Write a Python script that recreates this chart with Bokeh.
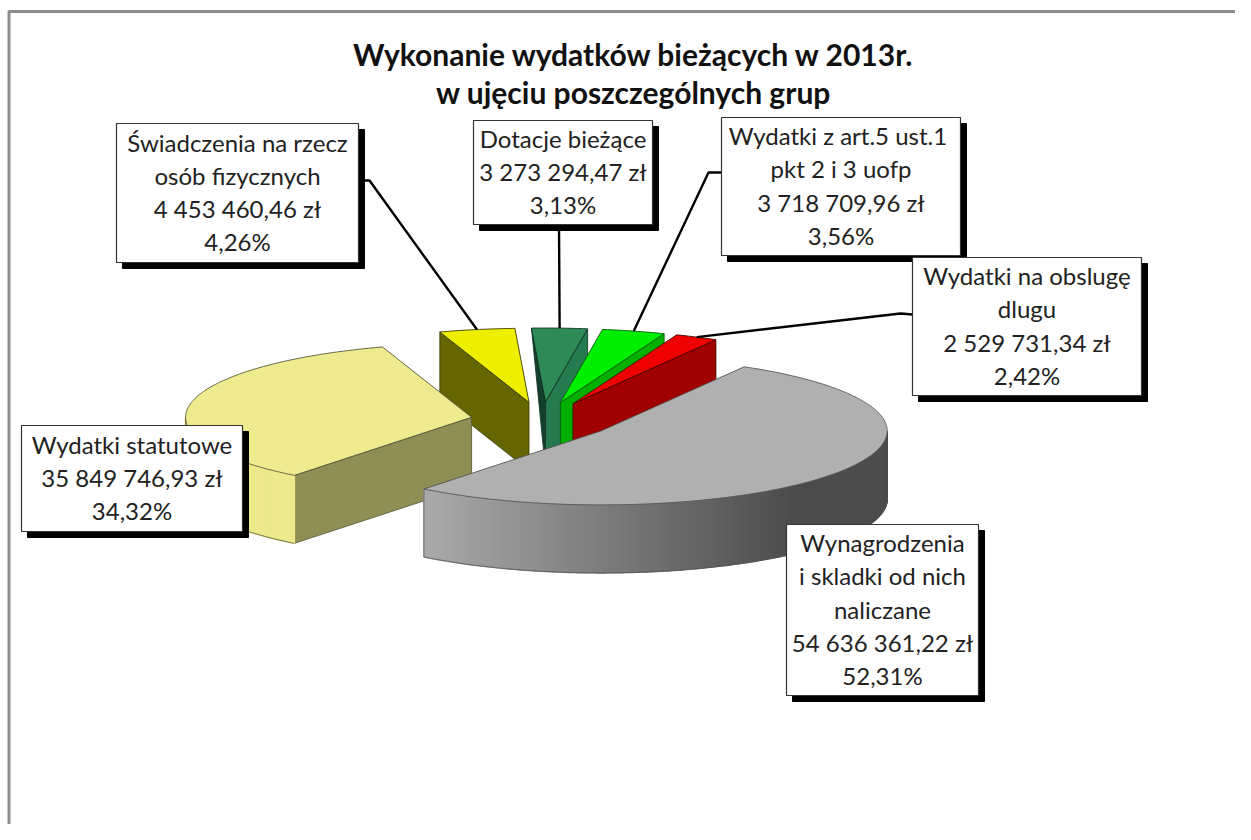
import math
from bokeh.plotting import figure
from bokeh.models import Range1d
from bokeh.core.properties import value
from bokeh.embed import file_html
from bokeh.resources import INLINE

# ---------- data ----------
categories = ["Wynagrodzenia i skladki", "Wydatki statutowe", "Świadczenia", "Dotacje bieżące", "Wydatki z art.5", "Wydatki na obsługę"]
amounts = [54636361.22, 35849746.93, 4453460.46, 3273294.47, 3718709.96, 2529731.34]
amount_labels = ["54 636 361,22 zł", "35 849 746,93 zł", "4 453 460,46 zł", "3 273 294,47 zł", "3 718 709,96 zł", "2 529 731,34 zł"]
percent_labels = ["52,31%", "34,32%", "4,26%", "3,13%", "3,56%", "2,42%"]
name_lines = [
    ["Wynagrodzenia", "i skladki od nich", "naliczane"],
    ["Wydatki statutowe"],
    ["Świadczenia na rzecz", "osób fizycznych"],
    ["Dotacje bieżące"],
    ["Wydatki z art.5  ust.1", "pkt 2 i 3 uofp"],
    ["Wydatki na obslugę", "dlugu"],
]
title_lines = ["Wykonanie wydatków  bieżących w 2013r.", "w ujęciu poszczególnych grup"]

# ---------- style / layout ----------
FONT = "Lato"
LABEL_SIZE = "24px"
TITLE_SIZE = "30px"
LINE_STEP = 33.3
CX, CY = 541.5, 420.0
RX, RY, DEPTH = 286.0, 74.0, 68.0
EXPLODE = 0.25
START_ANGLE = 30.0
top_colors = ["#B0B0B0", "#EEEB8E", "#EEEE00", "#2E8B57", "#00EE00", "#EE0000"]
start_face = [None, "#8F8F55", "#666600", "#143F2C", None, None]
end_face = [None, None, None, "#267A50", "#00B000", "#A00000"]
edge_colors = ["#555555", "#55553A", "#3A3A00", "#0F3020", "#0A5A0A", "#4A0000"]
boxes = [(786, 978, 524, 695), (21, 242, 425, 531), (116, 358, 123, 262),
         (473, 652, 120, 224), (721, 960, 117, 255), (912, 1141, 257, 395)]
leader_anchor = [None, None, (369, 180), (558.5, 224), (708, 172), (900, 313)]
leader_box = [None, None, (358, 180), None, (721, 172), (912, 314)]
draw_order = [2, 3, 4, 5, 1, 0]
SHADOW = 6

p = figure(width=1235, height=824, x_range=Range1d(0, 1235), y_range=Range1d(824, 0),
           output_backend="svg", toolbar_location=None, x_axis_location=None,
           y_axis_location=None, min_border=0, outline_line_color=None,
           background_fill_color="white", border_fill_color="white")
p.grid.visible = False

# frame
p.line([8.5, 8.5, 1235], [824, 11, 11], line_color="#8C8C8C", line_width=3)

total = sum(amounts)
spans = [a / total * 360.0 for a in amounts]
starts = []
acc = START_ANGLE
for s in spans:
    starts.append(acc)
    acc += s
mids = [st + sp / 2 for st, sp in zip(starts, spans)]
apexes = [(CX + EXPLODE * RX * math.sin(math.radians(m)),
           CY - EXPLODE * RY * math.cos(math.radians(m))) for m in mids]


def rim(i, deg):
    a = math.radians(deg)
    return apexes[i][0] + RX * math.sin(a), apexes[i][1] - RY * math.cos(a)


def lerp_hex(c1, c2, t):
    t = max(0.0, min(1.0, t))
    return "#%02x%02x%02x" % tuple(round(a + (b - a) * t) for a, b in zip(c1, c2))


def degrees_between(a, b, step=0.5):
    n = max(2, int(abs(b - a) / step) + 1)
    return [a + (b - a) * k / (n - 1) for k in range(n)]


def draw_face(i, deg, color):
    ax, ay = apexes[i]
    rx, ry = rim(i, deg)
    # the dark left face of the "Dotacje" slice narrows to nothing at the rim
    pinch = (i == 3 and color == start_face[3])
    bottom = (rx, ry) if pinch else (rx, ry + DEPTH)
    xs = [ax, rx, bottom[0], ax]
    ys = [ay, ry, bottom[1], ay + DEPTH]
    p.patch(xs, ys, fill_color=color, line_color=edge_colors[i], line_width=0.9, line_alpha=0.9)


def draw_rim(i):
    st, en = starts[i], starts[i] + spans[i]
    a, b = max(st, 90.0), min(en, 270.0)
    if a >= b:
        return
    degs = degrees_between(a, b)
    xss, yss, cols = [], [], []
    x_lo, x_hi = rim(i, b)[0], rim(i, a)[0]
    for d0, d1 in zip(degs[:-1], degs[1:]):
        (x0, y0), (x1, y1) = rim(i, d0), rim(i, d1)
        xss.append([x0, x1, x1, x0])
        yss.append([y0, y1, y1 + DEPTH, y0 + DEPTH])
        t = ((x0 + x1) / 2 - x_lo) / (x_hi - x_lo)
        if i == 0:
            cols.append(lerp_hex((0xAA, 0xAA, 0xAA), (0x4C, 0x4C, 0x4C), t / 0.8))
        else:
            cols.append(lerp_hex((0xE9, 0xE7, 0x88), (0xEC, 0xEA, 0x8C), t))
    p.patches(xss, yss, fill_color=cols, line_color=cols, line_width=1.5)
    pts = [rim(i, d) for d in degs]
    bx = [q[0] for q in pts]
    by = [q[1] + DEPTH for q in pts]
    p.line(bx, by, line_color=edge_colors[i], line_width=0.8)
    p.line([pts[-1][0]] * 2, [pts[-1][1], by[-1]], line_color=edge_colors[i], line_width=0.8)


def draw_top(i):
    degs = degrees_between(starts[i], starts[i] + spans[i])
    pts = [rim(i, d) for d in degs]
    xs = [apexes[i][0]] + [q[0] for q in pts]
    ys = [apexes[i][1]] + [q[1] for q in pts]
    p.patch(xs, ys, fill_color=top_colors[i], line_color=edge_colors[i], line_width=0.9)


for i in draw_order:
    st, en = starts[i], starts[i] + spans[i]
    if start_face[i] and math.sin(math.radians(st)) < 0:
        draw_face(i, st, start_face[i])
    if end_face[i] and math.sin(math.radians(en)) > 0:
        draw_face(i, en, end_face[i])
    draw_rim(i)
    draw_top(i)

# leader lines
for i in range(len(amounts)):
    if leader_anchor[i] is None:
        continue
    mx, my = rim(i, mids[i])
    xs, ys = [mx, leader_anchor[i][0]], [my, leader_anchor[i][1]]
    if leader_box[i]:
        xs.append(leader_box[i][0])
        ys.append(leader_box[i][1])
    p.line(xs, ys, line_color="#000000", line_width=2.4)

# labels
for i, (l, r, t, b) in enumerate(boxes):
    p.quad(left=l + SHADOW, right=r + SHADOW, top=t + SHADOW, bottom=b + SHADOW,
           fill_color="#000000", line_color="#000000", line_width=1)
    p.quad(left=l, right=r, top=t, bottom=b, fill_color="#FFFFFF", line_color="#333333", line_width=1.2)
for i, (l, r, t, b) in enumerate(boxes):
    lines = name_lines[i] + [amount_labels[i], percent_labels[i]]
    ym = (t + b) / 2 - 1
    y0 = ym - LINE_STEP * (len(lines) - 1) / 2
    p.text([(l + r) / 2] * len(lines), [y0 + k * LINE_STEP for k in range(len(lines))], text=lines,
           text_font=value(FONT), text_font_size=LABEL_SIZE, text_color="#222222",
           text_align="center", text_baseline="middle")

# title
p.text([637, 633], [53, 91], text=title_lines, text_font=value(FONT), text_font_size=TITLE_SIZE,
       text_font_style="bold", text_color="#111111", text_align="center", text_baseline="middle")

open("out.html", "w").write(file_html(p, INLINE))
